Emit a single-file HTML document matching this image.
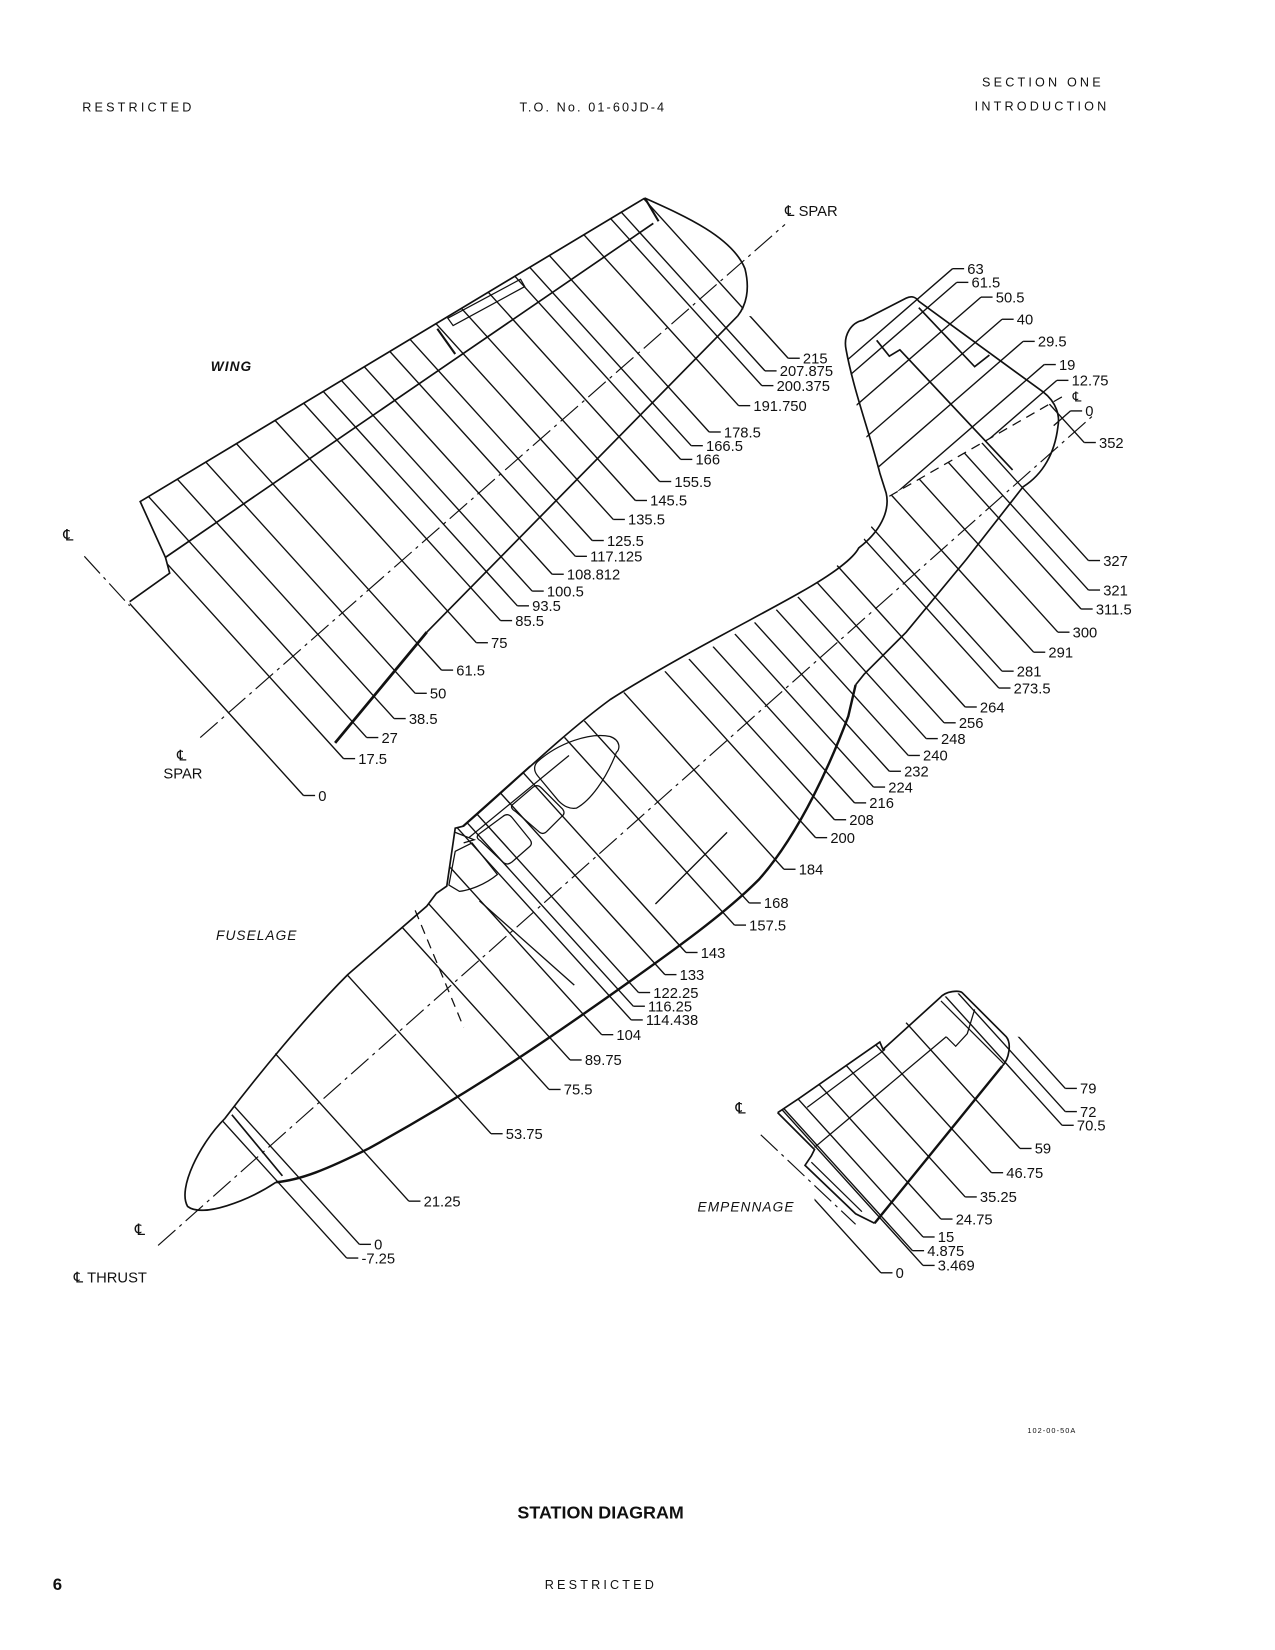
<!DOCTYPE html>
<html><head><meta charset="utf-8">
<style>
html,body{margin:0;padding:0;background:#fff;}
svg{display:block;}
text{font-family:"Liberation Sans","DejaVu Sans",sans-serif;fill:#111;}
.l{stroke:#111;stroke-width:1.3;fill:none;}
.o{stroke:#111;stroke-width:1.6;fill:none;}
.t{stroke:#111;stroke-width:2.6;fill:none;}
.dd{stroke:#111;stroke-width:1.1;fill:none;stroke-dasharray:22,5,3,5;}
.ds{stroke:#111;stroke-width:1.2;fill:none;stroke-dasharray:9,6;}
.n{font-size:14px;}
.h{font-size:12px;letter-spacing:3px;}
.it{font-size:13px;font-style:italic;letter-spacing:1px;}
</style></head>
<body>
<svg width="1275" height="1650" viewBox="0 0 1210 1566" xmlns="http://www.w3.org/2000/svg">
<defs>
<clipPath id="cw"><polygon points="123,571 161,544 157,529 133,476 612,188 650,203 690,232 707,262 705,300 1210,300 1210,800 123,800"/></clipPath>
<clipPath id="cf"><polygon points="100,1566 100,1150 175,1130 213,1062 265,995 330,925 405,860 425,842 432,786 440,784 503,727 579,664 680,612 760,565 815,520 844,471 1009,376 1210,376 1210,1566"/></clipPath>
<clipPath id="cn"><polygon points="803,332 815,395 835,449 844,471 1009,376 1210,376 1210,150 860,150 860,283 819,304"/></clipPath>
<clipPath id="ce"><polygon points="738,1056 759,1042 835,989 892,947 913,942 955,984 1210,984 1210,1566 773,1566 773,1091"/></clipPath>
</defs>

<!-- HEADER / FOOTER -->
<text x="78" y="106" class="h">RESTRICTED</text>
<text x="493" y="106" class="h" style="letter-spacing:2px">T.O. No. 01-60JD-4</text>
<text x="932" y="82" class="h">SECTION ONE</text>
<text x="925" y="105" class="h">INTRODUCTION</text>
<text x="50" y="1509" style="font-size:16px;font-weight:bold">6</text>
<text x="517" y="1508" class="h">RESTRICTED</text>
<text x="570" y="1441" text-anchor="middle" style="font-size:17px;font-weight:bold">STATION DIAGRAM</text>
<text x="975" y="1360" style="font-size:7px;letter-spacing:1px">102-00-50A</text>

<!-- ============ WING ============ -->
<text x="200" y="352" class="it" style="font-weight:bold">WING</text>
<text x="60" y="513" style="font-size:15px">℄</text>
<line x1="80" y1="528" x2="123" y2="575" class="dd"/>
<g class="o">
<polyline points="123,571 161,544 157,529 133,476 612,188"/>
<path d="M612,188 C650,205 695,225 707,255 C712,275 708,290 700,300"/>
<line x1="157" y1="529" x2="620" y2="212"/>
<line x1="405" y1="600" x2="700" y2="300"/>
</g>
<line x1="318" y1="705" x2="405" y2="600" class="t"/>
<polyline points="415,312 432,336" class="t" style="stroke-width:2"/>
<polygon points="425,302 494,265 498,272 430,309" class="o" style="stroke-width:1.2"/>
<polyline points="612,188 625,210" class="t" style="stroke-width:2"/>
<line x1="190" y1="700" x2="745" y2="213" class="dd"/>
<text x="745" y="205" style="font-size:14px">℄ SPAR</text>
<text x="168" y="722" style="font-size:14px">℄</text>
<text x="155" y="739" style="font-size:14px">SPAR</text>
<g clip-path="url(#cw)" class="l">
<line x1="748" y1="340" x2="279" y2="-178"/>
<line x1="726" y1="352" x2="257" y2="-166"/>
<line x1="723" y1="366" x2="254" y2="-152"/>
<line x1="701" y1="385" x2="232" y2="-133"/>
<line x1="673" y1="410" x2="204" y2="-108"/>
<line x1="656" y1="423" x2="187" y2="-95"/>
<line x1="646" y1="436" x2="177" y2="-82"/>
<line x1="626" y1="457" x2="157" y2="-61"/>
<line x1="603" y1="475" x2="134" y2="-43"/>
<line x1="582" y1="493" x2="113" y2="-25"/>
<line x1="562" y1="513" x2="93" y2="-5"/>
<line x1="546" y1="528" x2="77" y2="10"/>
<line x1="524" y1="545" x2="55" y2="27"/>
<line x1="505" y1="561" x2="36" y2="43"/>
<line x1="491" y1="575" x2="22" y2="57"/>
<line x1="475" y1="589" x2="6" y2="71"/>
<line x1="452" y1="610" x2="-17" y2="92"/>
<line x1="419" y1="636" x2="-50" y2="118"/>
<line x1="394" y1="658" x2="-75" y2="140"/>
<line x1="374" y1="682" x2="-95" y2="164"/>
<line x1="348" y1="700" x2="-121" y2="182"/>
<line x1="326" y1="720" x2="-143" y2="202"/>
<line x1="288" y1="755" x2="-181" y2="237"/>
</g>
<g class="l">
<line x1="748" y1="340" x2="759" y2="340"/><line x1="726" y1="352" x2="737" y2="352"/><line x1="723" y1="366" x2="734" y2="366"/><line x1="701" y1="385" x2="712" y2="385"/><line x1="673" y1="410" x2="684" y2="410"/><line x1="656" y1="423" x2="667" y2="423"/><line x1="646" y1="436" x2="657" y2="436"/><line x1="626" y1="457" x2="637" y2="457"/><line x1="603" y1="475" x2="614" y2="475"/><line x1="582" y1="493" x2="593" y2="493"/><line x1="562" y1="513" x2="573" y2="513"/><line x1="546" y1="528" x2="557" y2="528"/><line x1="524" y1="545" x2="535" y2="545"/><line x1="505" y1="561" x2="516" y2="561"/><line x1="491" y1="575" x2="502" y2="575"/><line x1="475" y1="589" x2="486" y2="589"/><line x1="452" y1="610" x2="463" y2="610"/><line x1="419" y1="636" x2="430" y2="636"/><line x1="394" y1="658" x2="405" y2="658"/><line x1="374" y1="682" x2="385" y2="682"/><line x1="348" y1="700" x2="359" y2="700"/><line x1="326" y1="720" x2="337" y2="720"/><line x1="288" y1="755" x2="299" y2="755"/>
</g>
<g class="n">
<text x="762" y="345">215</text><text x="740" y="357">207.875</text><text x="737" y="371">200.375</text><text x="715" y="390">191.750</text><text x="687" y="415">178.5</text><text x="670" y="428">166.5</text><text x="660" y="441">166</text><text x="640" y="462">155.5</text><text x="617" y="480">145.5</text><text x="596" y="498">135.5</text><text x="576" y="518">125.5</text><text x="560" y="533">117.125</text><text x="538" y="550">108.812</text><text x="519" y="566">100.5</text><text x="505" y="580">93.5</text><text x="489" y="594">85.5</text><text x="466" y="615">75</text><text x="433" y="641">61.5</text><text x="408" y="663">50</text><text x="388" y="687">38.5</text><text x="362" y="705">27</text><text x="340" y="725">17.5</text><text x="302" y="760">0</text>
</g>

<!-- ============ FUSELAGE ============ -->
<text x="205" y="892" class="it">FUSELAGE</text>
<line x1="150" y1="1182" x2="1040" y2="392" class="dd"/>
<text x="128" y="1172" style="font-size:15px">℄</text>
<text x="70" y="1217" style="font-size:14px">℄ THRUST</text>
<g class="o">
<path d="M213,1062 C245,1020 290,965 330,925 L405,860 L414,848 L424,841 L432,786 L440,784 C480,750 530,700 579,664 C640,625 720,585 760,562 C790,545 810,530 815,520 C835,505 845,485 841,468 L835,449 C825,410 810,370 803,332 C800,318 808,306 819,304 L860,283 C866,280 870,283 872,286 L990,372 C1003,382 1006,395 1004,405 C1001,430 990,450 971,462 L917,531 L860,600 L820,640 L812,650"/>
<path d="M213,1062 C190,1085 168,1128 178,1145 C192,1156 235,1140 262,1122"/>
<line x1="220" y1="1058" x2="268" y2="1116"/>
<polyline points="832,323 844,338 854,332 961,446"/>
<polyline points="872,292 925,348 939,337"/>
<path d="M510,723 C530,705 560,695 579,699 C590,703 588,712 585,714 C575,740 560,760 547,767 C540,768 535,765 530,760 L510,736 C506,731 507,726 510,723 Z" style="stroke-width:1.2"/>
<path d="M486,764 L506,747 Q510,744 514,748 L534,768 Q537,772 533,775 L519,789 Q515,793 511,789 L489,770 Q484,767 486,764 Z" style="stroke-width:1.2"/>
<path d="M454,792 L477,775 Q482,771 486,776 L503,797 Q506,801 502,804 L486,818 Q481,822 477,818 L456,798 Q451,795 454,792 Z" style="stroke-width:1.2"/>
<path d="M448,800 L472,830 C460,840 445,845 436,846 L426,840 L432,808 Z" style="stroke-width:1.2"/>
<polyline points="432,790 450,797 440,800" style="stroke-width:1.2"/>
<line x1="439" y1="784" x2="503" y2="727" style="stroke-width:1.2"/>
<line x1="445" y1="795" x2="540" y2="717" style="stroke-width:1.2"/>
</g>
<path d="M812,650 L805,680 C790,720 760,790 720,835 C690,865 650,895 560,958 C500,1000 440,1040 350,1090 C310,1110 285,1120 262,1122" class="t" style="stroke-width:2.3"/>
<line x1="394" y1="864" x2="440" y2="975" class="ds"/>
<line x1="844" y1="471" x2="1009" y2="376" class="ds"/>
<line x1="690" y1="790" x2="622" y2="858" class="l"/>
<line x1="455" y1="855" x2="545" y2="935" class="l"/>
<g clip-path="url(#cf)" class="l">
<line x1="1029" y1="420" x2="560" y2="-98"/>
<line x1="1033" y1="532" x2="564" y2="14"/>
<line x1="1033" y1="560" x2="564" y2="42"/>
<line x1="1026" y1="578" x2="557" y2="60"/>
<line x1="1004" y1="600" x2="535" y2="82"/>
<line x1="981" y1="619" x2="512" y2="101"/>
<line x1="951" y1="637" x2="482" y2="119"/>
<line x1="948" y1="653" x2="479" y2="135"/>
<line x1="916" y1="671" x2="447" y2="153"/>
<line x1="896" y1="686" x2="427" y2="168"/>
<line x1="879" y1="701" x2="410" y2="183"/>
<line x1="862" y1="717" x2="393" y2="199"/>
<line x1="844" y1="732" x2="375" y2="214"/>
<line x1="829" y1="747" x2="360" y2="229"/>
<line x1="811" y1="762" x2="342" y2="244"/>
<line x1="792" y1="778" x2="323" y2="260"/>
<line x1="774" y1="795" x2="305" y2="277"/>
<line x1="744" y1="825" x2="275" y2="307"/>
<line x1="711" y1="857" x2="242" y2="339"/>
<line x1="697" y1="878" x2="228" y2="360"/>
<line x1="651" y1="904" x2="182" y2="386"/>
<line x1="631" y1="925" x2="162" y2="407"/>
<line x1="606" y1="942" x2="137" y2="424"/>
<line x1="601" y1="955" x2="132" y2="437"/>
<line x1="599" y1="968" x2="130" y2="450"/>
<line x1="571" y1="982" x2="102" y2="464"/>
<line x1="541" y1="1006" x2="72" y2="488"/>
<line x1="521" y1="1034" x2="52" y2="516"/>
<line x1="466" y1="1076" x2="-3" y2="558"/>
<line x1="388" y1="1140" x2="-81" y2="622"/>
<line x1="341" y1="1181" x2="-128" y2="663"/>
<line x1="329" y1="1194" x2="-140" y2="676"/>
</g>
<g class="l">
<line x1="1029" y1="420" x2="1040" y2="420"/><line x1="1033" y1="532" x2="1044" y2="532"/><line x1="1033" y1="560" x2="1044" y2="560"/><line x1="1026" y1="578" x2="1037" y2="578"/><line x1="1004" y1="600" x2="1015" y2="600"/><line x1="981" y1="619" x2="992" y2="619"/><line x1="951" y1="637" x2="962" y2="637"/><line x1="948" y1="653" x2="959" y2="653"/><line x1="916" y1="671" x2="927" y2="671"/><line x1="896" y1="686" x2="907" y2="686"/><line x1="879" y1="701" x2="890" y2="701"/><line x1="862" y1="717" x2="873" y2="717"/><line x1="844" y1="732" x2="855" y2="732"/><line x1="829" y1="747" x2="840" y2="747"/><line x1="811" y1="762" x2="822" y2="762"/><line x1="792" y1="778" x2="803" y2="778"/><line x1="774" y1="795" x2="785" y2="795"/><line x1="744" y1="825" x2="755" y2="825"/><line x1="711" y1="857" x2="722" y2="857"/><line x1="697" y1="878" x2="708" y2="878"/><line x1="651" y1="904" x2="662" y2="904"/><line x1="631" y1="925" x2="642" y2="925"/><line x1="606" y1="942" x2="617" y2="942"/><line x1="601" y1="955" x2="612" y2="955"/><line x1="599" y1="968" x2="610" y2="968"/><line x1="571" y1="982" x2="582" y2="982"/><line x1="541" y1="1006" x2="552" y2="1006"/><line x1="521" y1="1034" x2="532" y2="1034"/><line x1="466" y1="1076" x2="477" y2="1076"/><line x1="388" y1="1140" x2="399" y2="1140"/><line x1="341" y1="1181" x2="352" y2="1181"/><line x1="329" y1="1194" x2="340" y2="1194"/>
</g>
<g class="n">
<text x="1043" y="425">352</text><text x="1047" y="537">327</text><text x="1047" y="565">321</text><text x="1040" y="583">311.5</text><text x="1018" y="605">300</text><text x="995" y="624">291</text><text x="965" y="642">281</text><text x="962" y="658">273.5</text><text x="930" y="676">264</text><text x="910" y="691">256</text><text x="893" y="706">248</text><text x="876" y="722">240</text><text x="858" y="737">232</text><text x="843" y="752">224</text><text x="825" y="767">216</text><text x="806" y="783">208</text><text x="788" y="800">200</text><text x="758" y="830">184</text><text x="725" y="862">168</text><text x="711" y="883">157.5</text><text x="665" y="909">143</text><text x="645" y="930">133</text><text x="620" y="947">122.25</text><text x="615" y="960">116.25</text><text x="613" y="973">114.438</text><text x="585" y="987">104</text><text x="555" y="1011">89.75</text><text x="535" y="1039">75.5</text><text x="480" y="1081">53.75</text><text x="402" y="1145">21.25</text><text x="355" y="1186">0</text><text x="343" y="1199">-7.25</text>
</g>

<!-- fin stations -->
<g clip-path="url(#cn)" class="l">
<line x1="904" y1="255" x2="677" y2="452"/>
<line x1="908" y1="268" x2="681" y2="465"/>
<line x1="931" y1="282" x2="704" y2="479"/>
<line x1="951" y1="303" x2="724" y2="500"/>
<line x1="971" y1="324" x2="744" y2="521"/>
<line x1="991" y1="346" x2="764" y2="543"/>
<line x1="1003" y1="361" x2="776" y2="558"/>
</g>
<g class="l">
<line x1="904" y1="255" x2="915" y2="255"/><line x1="908" y1="268" x2="919" y2="268"/><line x1="931" y1="282" x2="942" y2="282"/><line x1="951" y1="303" x2="962" y2="303"/><line x1="971" y1="324" x2="982" y2="324"/><line x1="991" y1="346" x2="1002" y2="346"/><line x1="1003" y1="361" x2="1014" y2="361"/><line x1="1016" y1="390" x2="1027" y2="390"/><line x1="1016" y1="390" x2="1000" y2="404"/>
</g>
<g class="n">
<text x="918" y="260">63</text><text x="922" y="273">61.5</text><text x="945" y="287">50.5</text><text x="965" y="308">40</text><text x="985" y="329">29.5</text><text x="1005" y="351">19</text><text x="1017" y="366">12.75</text><text x="1018" y="381" style="font-size:13px">℄</text><text x="1030" y="395">0</text>
</g>

<!-- ============ EMPENNAGE ============ -->
<text x="662" y="1150" class="it">EMPENNAGE</text>
<text x="698" y="1057" style="font-size:15px">℄</text>
<line x1="722" y1="1077" x2="812" y2="1162" class="dd"/>
<g class="o">
<path d="M738,1056 L759,1042 L835,989 L838,996 L892,947 C898,940 910,940 913,942 L955,984 C960,990 958,1005 951,1012"/>
<polyline points="830,1161 812,1152 764,1106 770,1097 773,1091 738,1056"/>
<line x1="770" y1="1103" x2="818" y2="1150" style="stroke-width:1.2"/>
<line x1="773" y1="1089" x2="898" y2="984" style="stroke-width:1.2"/>
<polyline points="898,984 907,993 918,981 925,958" style="stroke-width:1.2"/>
<line x1="766" y1="1051" x2="840" y2="996" style="stroke-width:1.2"/>
<line x1="893" y1="950" x2="953" y2="1010" style="stroke-width:1.2"/>
</g>
<line x1="951" y1="1012" x2="830" y2="1161" class="t" style="stroke-width:2.3"/>
<g clip-path="url(#ce)" class="l">
<line x1="1011" y1="1033" x2="542" y2="515"/>
<line x1="1011" y1="1055" x2="542" y2="537"/>
<line x1="1008" y1="1068" x2="539" y2="550"/>
<line x1="968" y1="1090" x2="499" y2="572"/>
<line x1="941" y1="1113" x2="472" y2="595"/>
<line x1="916" y1="1136" x2="447" y2="618"/>
<line x1="893" y1="1157" x2="424" y2="639"/>
<line x1="876" y1="1174" x2="407" y2="656"/>
<line x1="866" y1="1187" x2="397" y2="669"/>
<line x1="876" y1="1201" x2="407" y2="683"/>
<line x1="836" y1="1208" x2="367" y2="690"/>
</g>
<g class="l">
<line x1="1011" y1="1033" x2="1022" y2="1033"/><line x1="1011" y1="1055" x2="1022" y2="1055"/><line x1="1008" y1="1068" x2="1019" y2="1068"/><line x1="968" y1="1090" x2="979" y2="1090"/><line x1="941" y1="1113" x2="952" y2="1113"/><line x1="916" y1="1136" x2="927" y2="1136"/><line x1="893" y1="1157" x2="904" y2="1157"/><line x1="876" y1="1174" x2="887" y2="1174"/><line x1="866" y1="1187" x2="877" y2="1187"/><line x1="876" y1="1201" x2="887" y2="1201"/><line x1="836" y1="1208" x2="847" y2="1208"/>
</g>
<g class="n">
<text x="1025" y="1038">79</text><text x="1025" y="1060">72</text><text x="1022" y="1073">70.5</text><text x="982" y="1095">59</text><text x="955" y="1118">46.75</text><text x="930" y="1141">35.25</text><text x="907" y="1162">24.75</text><text x="890" y="1179">15</text><text x="880" y="1192">4.875</text><text x="890" y="1206">3.469</text><text x="850" y="1213">0</text>
</g>
</svg>
</body></html>
